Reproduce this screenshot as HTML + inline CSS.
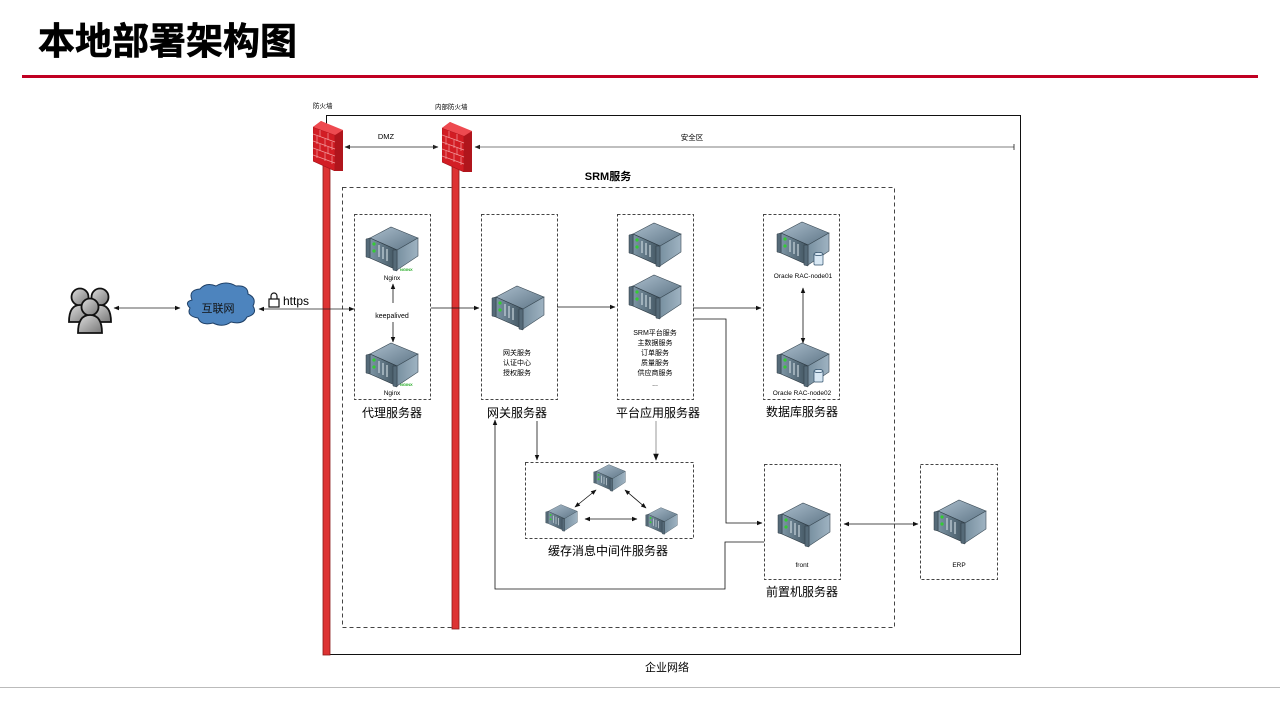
<!DOCTYPE html>
<html><head><meta charset="utf-8"><style>
html,body{margin:0;padding:0;background:#fff;}
body{width:1280px;height:720px;overflow:hidden;position:relative;font-family:"Liberation Sans","Noto Sans CJK SC",sans-serif;}
</style></head><body>
<svg width="1280" height="720" viewBox="0 0 1280 720" xmlns="http://www.w3.org/2000/svg" font-family="Liberation Sans, Noto Sans CJK SC, sans-serif">
<defs>
<linearGradient id="tg" x1="0" y1="0" x2="1" y2="1"><stop offset="0" stop-color="#a9bccb"/><stop offset="1" stop-color="#5f7687"/></linearGradient>
<linearGradient id="lg" x1="0" y1="0" x2="1" y2="0"><stop offset="0" stop-color="#7d95a5"/><stop offset="1" stop-color="#3f525e"/></linearGradient>
<linearGradient id="rg" x1="0" y1="0" x2="1" y2="0"><stop offset="0" stop-color="#7890a0"/><stop offset="1" stop-color="#9fb3c2"/></linearGradient>
<linearGradient id="ug" x1="0" y1="0" x2="1" y2="1"><stop offset="0" stop-color="#ddd"/><stop offset="1" stop-color="#777"/></linearGradient>
<symbol id="srv" viewBox="0 0 56 46">
<polygon points="6,12 27,1 54,12 33,24" fill="url(#tg)" stroke="#3a4a55" stroke-width="0.6"/>
<polygon points="6,12 33,24 33,44 6,32" fill="url(#lg)" stroke="#2e3b44" stroke-width="0.6"/>
<polygon points="33,24 54,12 54,30 33,44" fill="url(#rg)" stroke="#3a4a55" stroke-width="0.6"/>
<polygon points="2,13 6,12 6,32 2,31" fill="#556a78" stroke="#2e3b44" stroke-width="0.5"/>
<polygon points="29,24 33,24 33,45 29,44" fill="#556a78" stroke="#2e3b44" stroke-width="0.5"/>
<circle cx="10" cy="18" r="1.6" fill="#3c3"/><circle cx="10" cy="25" r="1.6" fill="#3c3"/>
<line x1="15" y1="19" x2="15" y2="31" stroke="#c8d4dc" stroke-width="1.2"/>
<line x1="19" y1="21" x2="19" y2="33" stroke="#c8d4dc" stroke-width="1.2"/>
<line x1="23" y1="23" x2="23" y2="35" stroke="#c8d4dc" stroke-width="1.2"/>
</symbol>
<symbol id="fw" viewBox="0 0 30 50">
<polygon points="0,6 8,0 30,10 30,50 22,46 0,40" fill="#e0242c"/>
<polygon points="0,6 22,14 22,50 0,40" fill="#d21d24" stroke="#a01018" stroke-width="0.6"/>
<polygon points="22,14 30,9 30,50 22,50" fill="#b0151c"/>
<polygon points="0,6 8,0 30,9 22,14" fill="#ee4a50"/>
<g stroke="#f29a9c" stroke-width="0.7" fill="none">
<path d="M0,13 L22,21 M0,20 L22,28 M0,27 L22,35 M0,34 L22,42"/>
<path d="M7,9 V16 M15,12 V19 M4,15 V23 M12,18 V26 M19,21 V29 M7,23 V30 M15,26 V33 M4,29 V37 M12,32 V40 M19,35 V43"/>
</g>
</symbol>
<marker id="a" viewBox="0 0 10 10" refX="9" refY="5" markerWidth="7" markerHeight="7" orient="auto-start-reverse"><path d="M0,1 L10,5 L0,9 z" fill="#111"/></marker>
<marker id="ag" viewBox="0 0 10 10" refX="9" refY="5" markerWidth="7" markerHeight="7" orient="auto-start-reverse"><path d="M0,1 L10,5 L0,9 z" fill="#222"/></marker>
<marker id="bar" viewBox="0 0 4 10" refX="2" refY="5" markerWidth="4" markerHeight="8" orient="auto"><path d="M2,0 V10" stroke="#111" stroke-width="1.2"/></marker>
</defs>

<!-- title -->
<text x="38" y="54" font-size="37" font-weight="bold" fill="#000" stroke="#000" stroke-width="0.6">本地部署架构图</text>
<rect x="22" y="75" width="1236" height="3" fill="#c00022"/>
<rect x="0" y="687" width="1280" height="1" fill="#bbb"/>

<!-- enterprise network -->
<rect x="326.5" y="115.5" width="694" height="539" fill="none" stroke="#111" stroke-width="1"/>
<text x="667" y="671" font-size="11" text-anchor="middle">企业网络</text>

<!-- SRM box -->
<rect x="342.5" y="187.5" width="552" height="440" fill="none" stroke="#444" stroke-dasharray="4,3"/>
<text x="608" y="180" font-size="11" font-weight="bold" text-anchor="middle">SRM服务</text>

<!-- firewalls -->
<rect x="323" y="165" width="7" height="490" fill="#d33" stroke="#8a1a1a" stroke-width="0.8"/>
<use href="#fw" x="313" y="121" width="30" height="50"/>
<text x="313" y="108" font-size="6.5">防火墙</text>
<rect x="452" y="165" width="7" height="464" fill="#d33" stroke="#8a1a1a" stroke-width="0.8"/>
<use href="#fw" x="442" y="122" width="30" height="50"/>
<text x="435" y="109" font-size="6.5">内部防火墙</text>

<!-- DMZ / safe zone -->
<line x1="345" y1="147" x2="438" y2="147" stroke="#222" stroke-width="0.8" marker-start="url(#ag)" marker-end="url(#ag)"/>
<text x="386" y="139" font-size="7.5" text-anchor="middle">DMZ</text>
<line x1="475" y1="147" x2="1014" y2="147" stroke="#555" stroke-width="0.8" marker-start="url(#ag)" marker-end="url(#bar)"/>
<text x="692" y="140" font-size="7.5" text-anchor="middle">安全区</text>

<!-- users -->
<g fill="url(#ug)" stroke="#111" stroke-width="1.8">
<circle cx="80" cy="297" r="8.5"/><path d="M69,322 q0,-17 11,-17 q11,0 11,17 z"/>
<circle cx="100" cy="297" r="8.5"/><path d="M89,322 q0,-17 11,-17 q11,0 11,17 z"/>
<circle cx="90" cy="307" r="8.5"/><path d="M78,333 q0,-18 12,-18 q12,0 12,18 z"/>
</g>
<line x1="114" y1="308" x2="180" y2="308" stroke="#222" stroke-width="0.8" marker-start="url(#a)" marker-end="url(#a)"/>
<!-- cloud -->
<path d="M192,300 q-4,-10 8,-11 q6,-7 16,-3 q10,-6 20,0 q12,-1 12,8 q9,4 5,12 q5,8 -6,11 q-4,8 -16,5 q-8,6 -18,1 q-12,3 -15,-5 q-12,-2 -8,-10 q-6,-6 2,-8 z" fill="#4d84be" stroke="#1e3f66" stroke-width="1"/>
<text x="218" y="312" font-size="11" text-anchor="middle" fill="#111">互联网</text>
<line x1="259" y1="309" x2="354" y2="309" stroke="#222" stroke-width="0.8" marker-start="url(#a)" marker-end="url(#a)"/>
<g stroke="#111" fill="none" stroke-width="1.2"><rect x="269" y="299" width="10" height="8" fill="#fff"/><path d="M271,299 v-3 a3,3 0 0 1 6,0 v3"/></g>
<text x="283" y="305" font-size="12">https</text>

<!-- proxy -->
<rect x="354.5" y="214.5" width="76" height="185" fill="none" stroke="#444" stroke-dasharray="3,2"/>
<use href="#srv" x="364" y="226" width="56" height="46"/>
<text x="400" y="271" font-size="4" fill="#2a2" font-weight="bold">NGINX</text>
<text x="392" y="280" font-size="6.5" text-anchor="middle">Nginx</text>
<line x1="393" y1="303" x2="393" y2="284" stroke="#111" stroke-width="0.8" marker-end="url(#a)"/>
<text x="392" y="318" font-size="7" text-anchor="middle">keepalived</text>
<line x1="393" y1="322" x2="393" y2="342" stroke="#111" stroke-width="0.8" marker-end="url(#a)"/>
<use href="#srv" x="364" y="342" width="56" height="46"/>
<text x="400" y="386" font-size="4" fill="#2a2" font-weight="bold">NGINX</text>
<text x="392" y="395" font-size="6.5" text-anchor="middle">Nginx</text>
<text x="392" y="417" font-size="12" text-anchor="middle">代理服务器</text>

<line x1="431" y1="308" x2="479" y2="308" stroke="#111" stroke-width="0.8" marker-end="url(#a)"/>

<!-- gateway -->
<rect x="481.5" y="214.5" width="76" height="185" fill="none" stroke="#444" stroke-dasharray="3,2"/>
<use href="#srv" x="490" y="285" width="56" height="46"/>
<text x="517" y="355" font-size="7" text-anchor="middle">网关服务</text>
<text x="517" y="365" font-size="7" text-anchor="middle">认证中心</text>
<text x="517" y="375" font-size="7" text-anchor="middle">授权服务</text>
<text x="517" y="417" font-size="12" text-anchor="middle">网关服务器</text>

<line x1="557" y1="307" x2="615" y2="307" stroke="#111" stroke-width="0.8" marker-end="url(#a)"/>

<!-- platform -->
<rect x="617.5" y="214.5" width="76" height="185" fill="none" stroke="#444" stroke-dasharray="3,2"/>
<use href="#srv" x="627" y="222" width="56" height="46"/>
<use href="#srv" x="627" y="274" width="56" height="46"/>
<g font-size="7" text-anchor="middle"><text x="655" y="335">SRM平台服务</text><text x="655" y="345">主数据服务</text><text x="655" y="355">订单服务</text><text x="655" y="365">质量服务</text><text x="655" y="375">供应商服务</text><text x="655" y="386">...</text></g>
<text x="658" y="417" font-size="12" text-anchor="middle">平台应用服务器</text>

<line x1="693" y1="308" x2="761" y2="308" stroke="#111" stroke-width="0.8" marker-end="url(#a)"/>
<polyline points="694,319 726,319 726,523 762,523" fill="none" stroke="#111" stroke-width="0.8" marker-end="url(#a)"/>

<!-- DB -->
<rect x="763.5" y="214.5" width="76" height="185" fill="none" stroke="#444" stroke-dasharray="3,2"/>
<use href="#srv" x="775" y="221" width="56" height="46"/>
<use href="#srv" x="775" y="342" width="56" height="46"/>
<g fill="#d8e8f4" stroke="#2b4b66" stroke-width="0.7"><rect x="814" y="254" width="9" height="11" rx="1"/><ellipse cx="818.5" cy="254" rx="4.5" ry="1.6"/><rect x="814" y="371" width="9" height="11" rx="1"/><ellipse cx="818.5" cy="371" rx="4.5" ry="1.6"/></g>
<text x="803" y="278" font-size="6.5" text-anchor="middle">Oracle RAC-node01</text>
<line x1="803" y1="288" x2="803" y2="343" stroke="#111" stroke-width="0.8" marker-start="url(#a)" marker-end="url(#a)"/>
<text x="802" y="395" font-size="6.5" text-anchor="middle">Oracle RAC-node02</text>
<text x="802" y="416" font-size="12" text-anchor="middle">数据库服务器</text>

<!-- down arrows to cache -->
<line x1="537" y1="421" x2="537" y2="460" stroke="#111" stroke-width="0.8" marker-end="url(#a)"/>
<line x1="656" y1="421" x2="656" y2="460" stroke="#999" stroke-width="1" marker-end="url(#a)"/>

<!-- cache -->
<rect x="525.5" y="462.5" width="168" height="76" fill="none" stroke="#444" stroke-dasharray="3,2"/>
<use href="#srv" x="586" y="464" width="47" height="28"/>
<use href="#srv" x="538" y="504" width="47" height="28"/>
<use href="#srv" x="638" y="507" width="47" height="28"/>
<line x1="596" y1="490" x2="575" y2="507" stroke="#111" stroke-width="0.8" marker-start="url(#a)" marker-end="url(#a)"/>
<line x1="625" y1="490" x2="646" y2="508" stroke="#111" stroke-width="0.8" marker-start="url(#a)" marker-end="url(#a)"/>
<line x1="585" y1="519" x2="637" y2="519" stroke="#111" stroke-width="0.8" marker-start="url(#a)" marker-end="url(#a)"/>
<text x="608" y="555" font-size="12" text-anchor="middle">缓存消息中间件服务器</text>

<!-- front -->
<rect x="764.5" y="464.5" width="76" height="115" fill="none" stroke="#444" stroke-dasharray="3,2"/>
<use href="#srv" x="776" y="502" width="56" height="46"/>
<text x="802" y="567" font-size="6.5" text-anchor="middle">front</text>
<text x="802" y="596" font-size="12" text-anchor="middle">前置机服务器</text>
<polyline points="764,542 725,542 725,589 495,589 495,420" fill="none" stroke="#111" stroke-width="0.8" marker-end="url(#a)"/>
<line x1="844" y1="524" x2="918" y2="524" stroke="#111" stroke-width="0.8" marker-start="url(#a)" marker-end="url(#a)"/>

<!-- ERP -->
<rect x="920.5" y="464.5" width="77" height="115" fill="none" stroke="#444" stroke-dasharray="3,2"/>
<use href="#srv" x="932" y="499" width="56" height="46"/>
<text x="959" y="567" font-size="6.5" text-anchor="middle">ERP</text>
</svg>
</body></html>
